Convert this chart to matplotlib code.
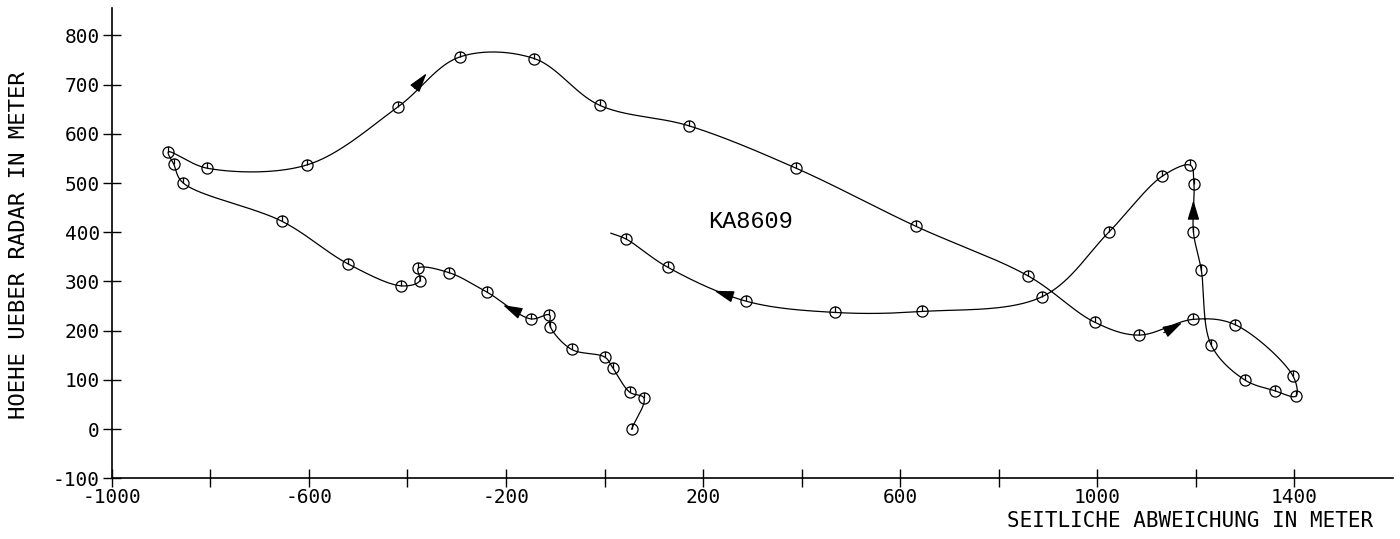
import numpy as np
import matplotlib
matplotlib.use("Agg")
import matplotlib.pyplot as plt
from matplotlib.path import Path

# Flugbahn KA8609: Messpunkte in zeitlicher Reihenfolge (x = seitl. Abweichung, y = Hoehe)
track_x = [55, 80, 51, 17, 1, -67, -110, -112, -150, -238, -316, -378, -375, -412,
           -521, -654, -856, -874, -885, -806, -603, -420, -294, -143, -10, 172, 389,
           632, 860, 995, 1084, 1195, 1280, 1397, 1403, 1360, 1299, 1231, 1211, 1195,
           1196, 1189, 1132, 1024, 888, 645, 468, 287, 128, 44]
track_y = [0, 63, 75, 124, 146, 162, 208, 232, 224, 278, 318, 327, 301, 291,
           336, 422, 501, 538, 563, 530, 537, 654, 756, 753, 658, 616, 530,
           412, 311, 217, 191, 223, 212, 108, 67, 78, 100, 171, 323, 401,
           499, 536, 514, 401, 269, 239, 237, 260, 329, 386]
# Bahnende ohne Messpunkt
end_x, end_y = 13, 398

# Richtungspfeile (Ende -> Spitze)
arrow_tail_x = [-179, -385, 1135, 1195, 260]
arrow_tail_y = [239, 692, 196, 431, 269]
arrow_tip_x = [-206, -361, 1172, 1195, 223]
arrow_tip_y = [252, 723, 216, 465, 281]

x_labeled = [-1000, -600, -200, 200, 600, 1000, 1400]
x_unlabeled = [-800, -400, 0, 400, 800, 1200]
y_ticks = [-100, 0, 100, 200, 300, 400, 500, 600, 700, 800]


def catmull_rom(xs, ys, n=40, alpha=0.5):
    p = np.column_stack([xs, ys]).astype(float)
    p = np.vstack([2 * p[0] - p[1], p, 2 * p[-1] - p[-2]])
    out = []
    for i in range(1, len(p) - 2):
        p0, p1, p2, p3 = p[i - 1], p[i], p[i + 1], p[i + 2]
        t0 = 0.0
        t1 = t0 + np.linalg.norm(p1 - p0) ** alpha
        t2 = t1 + np.linalg.norm(p2 - p1) ** alpha
        t3 = t2 + np.linalg.norm(p3 - p2) ** alpha
        t = np.linspace(t1, t2, n)[:, None]
        a1 = (t1 - t) / (t1 - t0) * p0 + (t - t0) / (t1 - t0) * p1
        a2 = (t2 - t) / (t2 - t1) * p1 + (t - t1) / (t2 - t1) * p2
        a3 = (t3 - t) / (t3 - t2) * p2 + (t - t2) / (t3 - t2) * p3
        b1 = (t2 - t) / (t2 - t0) * a1 + (t - t0) / (t2 - t0) * a2
        b2 = (t3 - t) / (t3 - t1) * a2 + (t - t1) / (t3 - t1) * a3
        c = (t2 - t) / (t2 - t1) * b1 + (t - t1) / (t2 - t1) * b2
        out.append(c if not out else c[1:])
    return np.vstack(out)


plt.rcParams['axes.unicode_minus'] = False
mono = 'DejaVu Sans Mono'

fig = plt.figure(figsize=(14, 5.39), dpi=100)
ax = fig.add_axes([0.0798, 0.1126, 0.9152, 0.872])

curve = catmull_rom(track_x + [end_x], track_y + [end_y])
ax.plot(curve[:, 0], curve[:, 1], color='black', lw=0.9)

# Messpunkt-Symbol: Kreis mit kurzem Strich
circ = Path.unit_circle()
stem = Path([(0, 0), (0, 1)], [Path.MOVETO, Path.LINETO])
marker = Path.make_compound_path(circ, stem)
ax.plot(track_x, track_y, linestyle='none', marker=marker, markersize=8,
        markerfacecolor='none', markeredgecolor='black', markeredgewidth=0.9)

for tx, ty, hx, hy in zip(arrow_tail_x, arrow_tail_y, arrow_tip_x, arrow_tip_y):
    ax.annotate('', xy=(hx, hy), xytext=(tx, ty),
                arrowprops=dict(arrowstyle='-|>,head_length=0.6,head_width=0.18',
                                mutation_scale=20, color='black', lw=0.9,
                                shrinkA=0, shrinkB=0))

ax.text(297, 421, 'KA8609', ha='center', va='center', fontsize=17,
        family='Liberation Mono')

ax.set_xlim(-1000, 1600)
ax.set_ylim(-100, 855)
ax.spines['top'].set_visible(False)
ax.spines['right'].set_visible(False)
ax.spines['left'].set_linewidth(1.2)
ax.spines['bottom'].set_linewidth(1.2)

ax.set_xticks(x_labeled)
ax.set_xticks(x_unlabeled, minor=True)
ax.set_yticks(y_ticks)
ax.tick_params(which='both', direction='inout', length=13, width=1.0,
               labelsize=14, pad=2)
ax.tick_params(axis='x', pad=0.5)
for lab in ax.get_xticklabels() + ax.get_yticklabels():
    lab.set_family(mono)

fig.text(1373 / 1400, 1 - 521 / 539, 'SEITLICHE ABWEICHUNG IN METER',
         ha='right', va='center', fontsize=15, family=mono)
fig.text(19 / 1400, 1 - 245 / 539, 'HOEHE UEBER RADAR IN METER',
         ha='center', va='center', rotation=90, fontsize=16, family=mono)

fig.savefig('out.png', dpi=100)
